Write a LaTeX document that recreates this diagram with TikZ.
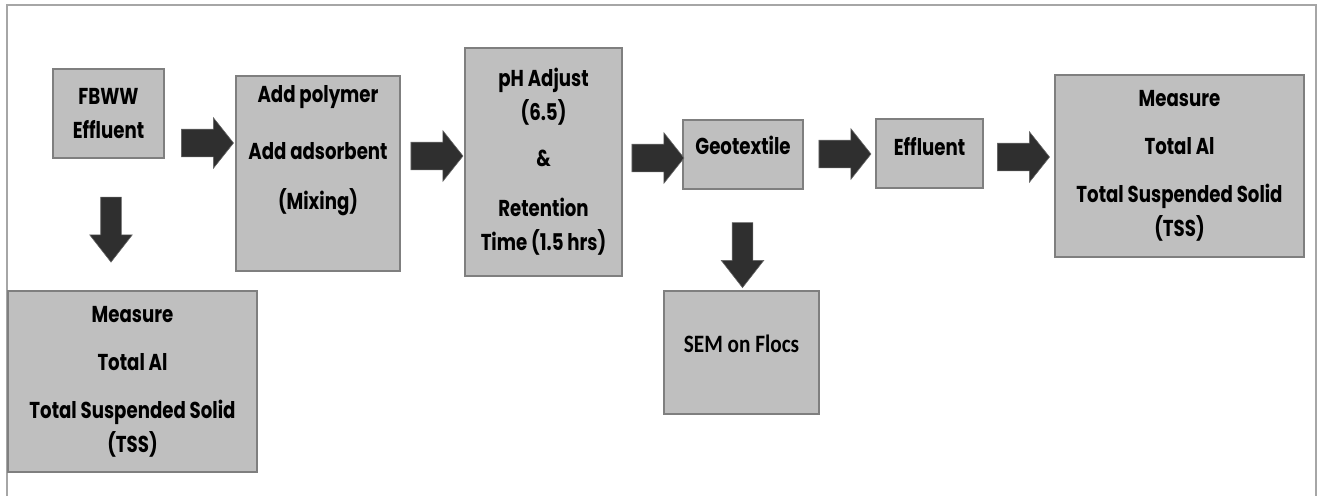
\documentclass[tikz,border=0pt]{standalone}
\usepackage{fontspec}
\newfontfamily\gothfont{Poppins}[FakeStretch=0.79]
\newfontfamily\semfont{Carlito}[FakeStretch=0.85]
\usetikzlibrary{shapes.arrows}

\definecolor{boxgray}{HTML}{BFBFBF}
\definecolor{edgegray}{HTML}{7F7F7F}
\definecolor{arrowgray}{HTML}{2F2F2F}
\definecolor{framegray}{HTML}{A6A6A6}

\begin{document}
\begin{tikzpicture}[x=1pt, y=-1pt,
  txt/.style={align=center, inner sep=0pt,
              font=\gothfont\bfseries\fontsize{23}{34}\selectfont},
  box/.style={rectangle, draw=edgegray, line width=1.2pt, fill=boxgray, txt},
  harrow/.style={single arrow, fill=arrowgray, draw=black!60, line width=0.6pt,
                 inner xsep=0pt, inner ysep=13.5pt, minimum height=52pt,
                 single arrow head extend=11.5pt, single arrow tip angle=103},
  varrow/.style={harrow, rotate=-90, minimum height=65pt, inner ysep=10pt,
                 single arrow head extend=11pt, single arrow tip angle=76}]
  \useasboundingbox (0,0) rectangle (1325,496);
  \draw[framegray, line width=1.5pt] (7,496) -- (7,5) -- (1316,5) -- (1316,496);

  % process boxes
  \node[box, minimum width=111pt, minimum height=89pt] (fbww) at (108.5,113.5)
    {FBWW\\Effluent};
  \node[box, minimum width=164pt, minimum height=195pt] (mix) at (318,173.5) {};
  \node[txt] (mixtxt) at ([yshift=23pt]mix.center)
    {Add polymer\\[23pt]Add adsorbent\\[16pt](Mixing)};
  \node[box, minimum width=157pt, minimum height=228pt] (ph) at (543.5,162)
    {pH Adjust\\(6.5)\\[12pt]\&\\[16pt]Retention\\Time (1.5 hrs)};
  \node[box, minimum width=120pt, minimum height=69pt, text depth=18pt] (geo)
    at (743,154.5) {Geotextile};
  \node[box, minimum width=107pt, minimum height=69pt, text depth=14pt] (eff)
    at (929.5,153.5) {Effluent};
  \node[box, minimum width=249pt, minimum height=182pt] (meas2) at (1179.5,166)
    {Measure\\[14pt]Total Al\\[14pt]Total Suspended Solid\\(TSS)};
  \node[box, minimum width=249pt, minimum height=181pt] (meas1) at (132.5,381.5)
    {Measure\\[14pt]Total Al\\[14pt]Total Suspended Solid\\(TSS)};
  \node[box, minimum width=155pt, minimum height=123pt, text depth=17pt] (sem)
    at (741.5,352.5) {\semfont\bfseries\fontsize{25}{30}\selectfont SEM on Flocs};

  % block arrows
  \node[harrow] (a1) at (202,143) {};
  \node[harrow] (a2) at (431.5,156) {};
  \node[harrow] (a3) at (652.5,158) {};
  \node[harrow] (a4) at (839.5,154) {};
  \node[harrow] (a5) at (1018,157) {};
  \node[varrow] (d1) at (111,223) {};
  \node[varrow] (d2) at (742.5,248.5) {};
\end{tikzpicture}
\end{document}
